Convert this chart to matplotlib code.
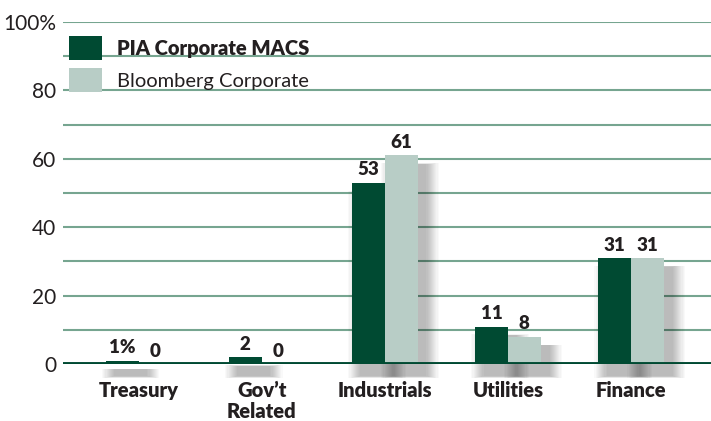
import numpy as np
import matplotlib.pyplot as plt
from matplotlib.patches import Rectangle

plt.rcParams['font.family'] = ['Lato', 'DejaVu Sans']

categories = ['Treasury', "Gov\u2019t\nRelated", 'Industrials', 'Utilities', 'Finance']
pia_values = [1, 2, 53, 11, 31]
bbg_values = [0, 0, 61, 8, 31]
pia_labels = ['1%', '2', '53', '11', '31']
bbg_labels = ['0', '0', '61', '8', '31']
y_ticks = [0, 20, 40, 60, 80, 100]
y_ticklabels = ['0', '20', '40', '60', '80', '100%']

dark = '#004a32'
light = '#b8cdc6'
grid_col = '#76a590'
text_col = '#231f20'

fig = plt.figure(figsize=(7.11, 4.21), dpi=100)
ax = fig.add_axes([0.0886, 0.135, 0.9114, 0.813])

x = np.arange(len(categories))
w = 0.268

# soft drop shadows, offset to the right of each bar (none for zero bars)
for xs, vals in [(x - w / 2, pia_values), (x + w / 2, bbg_values)]:
    for i in range(len(categories)):
        if vals[i] <= 0:
            continue
        for k in range(12):
            grow = 0.009 * k
            ax.add_patch(Rectangle((xs[i] - w / 2 + 0.07 - grow, -3.5 - grow * 6),
                                   w + 2 * grow, vals[i] + 1.0 + grow * 8,
                                   facecolor='#000000', alpha=0.025,
                                   edgecolor='none', zorder=1, clip_on=False))

ax.bar(x - w / 2, pia_values, w, color=dark, zorder=3, label='PIA Corporate MACS')
ax.bar(x + w / 2, bbg_values, w, color=light, zorder=3, label='Bloomberg Corporate')

for i in range(len(categories)):
    ax.text(x[i] - w / 2, pia_values[i] + 1.3, pia_labels[i], ha='center', va='bottom',
            fontsize=13.5, fontweight='heavy', color=text_col, zorder=5)
    ax.text(x[i] + w / 2, bbg_values[i] + 1.3, bbg_labels[i], ha='center', va='bottom',
            fontsize=13.5, fontweight='heavy', color=text_col, zorder=5)

ax.set_xlim(-0.615, 4.65)
ax.set_ylim(0, 100)
ax.set_yticks(y_ticks)
ax.set_yticklabels(y_ticklabels, fontsize=15, color=text_col)
ax.set_xticks(x)
ax.set_xticklabels(categories, fontsize=14.5, fontweight='heavy', color=text_col,
                   linespacing=1.12, va='top')
ax.tick_params(axis='both', which='both', length=0)
ax.tick_params(axis='y', pad=5)
ax.tick_params(axis='x', pad=12)

for yv in range(10, 101, 10):
    ax.axhline(yv, color=grid_col, lw=1.5, zorder=0)
ax.axhline(0, color=dark, lw=2.8, zorder=4)

for s in ax.spines.values():
    s.set_visible(False)

leg = ax.legend(loc='upper left', bbox_to_anchor=(-0.012, 1.0), frameon=False,
                handlelength=1.6, handleheight=1.45, handletextpad=0.75,
                labelspacing=0.42, fontsize=14.5, borderaxespad=0.3)
for t in leg.get_texts():
    t.set_color(text_col)
leg.get_texts()[0].set_fontweight('heavy')

fig.savefig('out.png', dpi=100)
